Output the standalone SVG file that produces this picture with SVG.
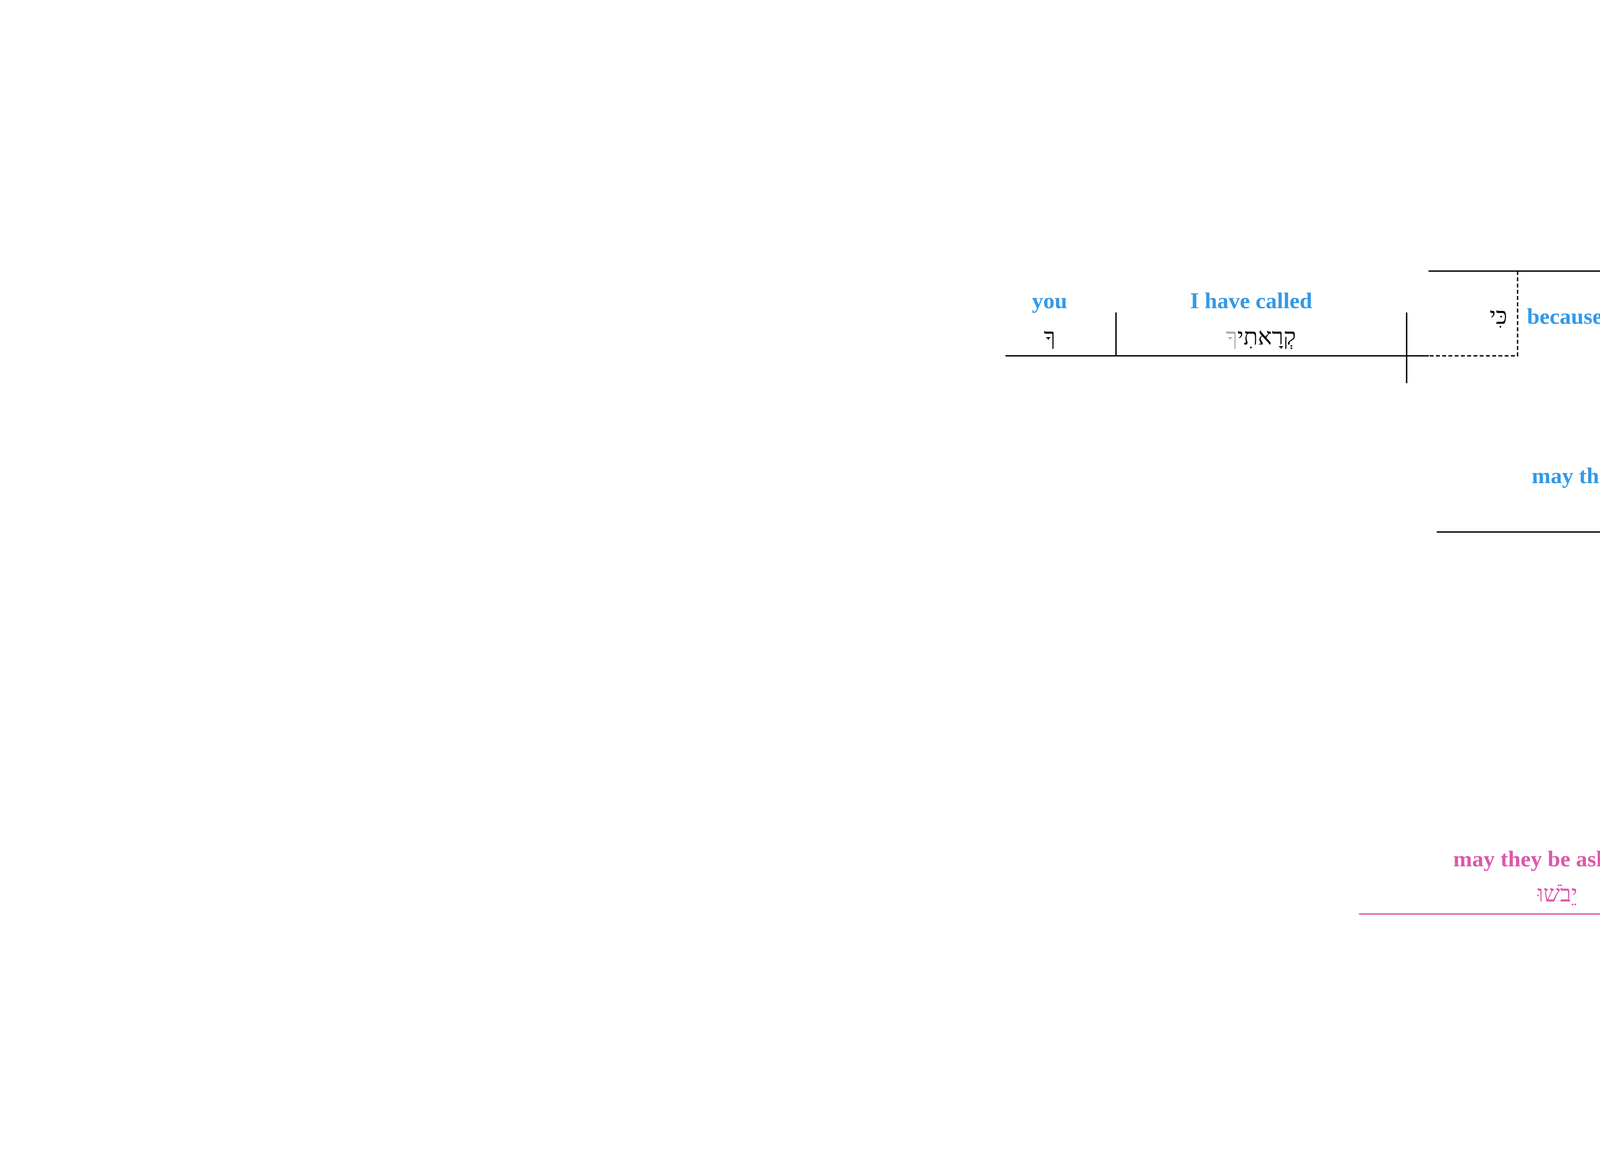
<svg xmlns="http://www.w3.org/2000/svg" width="5409" height="2957" viewBox="0 0 5409 2957">
<style>
.en{font-family:"Liberation Serif","Times New Roman",serif;font-weight:bold;font-size:58px;fill:#3399e8}
.he{font-family:"Liberation Serif","DejaVu Sans",serif;font-size:60px;fill:#000}
.pk{fill:#dc58ac}
.ln{stroke:#000;stroke-width:3.5;fill:none}
.lp{stroke:#dc58ac;stroke-width:3.5;fill:none}
.dash{stroke-dasharray:10 6}
.m{text-anchor:middle}
.s{text-anchor:start}
.e{text-anchor:end}
</style>
<rect width="5409" height="2957" fill="#fff"/>
<text x="5239" y="118" text-anchor="middle" font-family="Liberation Serif, serif" font-size="60" fill="#008000">v. 18</text>

<g id="yhwh">
<text class="en m" x="5241" y="259">YHWH</text>
<text class="he m" x="5241" y="348">יְהוָה</text>
<line class="ln" x1="5067" y1="383" x2="5409" y2="383"/>
</g>

<g id="clause1">
<line class="ln" x1="3657" y1="694" x2="5318" y2="694"/>
<line class="ln" x1="5261" y1="582" x2="5261" y2="762"/>
<text class="en m" x="4747" y="571">let me be ashamed</text>
<text class="he m" x="4748" y="660">אֵבוֹשָׁה</text>
</g>

<g id="not">
<line class="ln" x1="5036" y1="695" x2="4971" y2="807"/>
<text class="he m" x="4950" y="757">אַל</text>
<text class="en s" x="5030" y="759">not</text>
</g>

<g id="because-clause">
<line class="ln" x1="2574" y1="911" x2="3658" y2="911"/>
<line class="ln" x1="3601" y1="800" x2="3601" y2="981"/>
<line class="ln" x1="2857" y1="800" x2="2857" y2="911"/>
<text class="en m" x="2687" y="789">you</text>
<text class="he m" x="2687" y="882">ךָ</text>
<text class="en m" x="3203" y="789">I have called</text>
<text class="he m" x="3228" y="882">קְרָאתִי<tspan fill="#aaaaaa">ךָ</tspan></text>
<text class="he m" x="3836" y="829">כִּי</text>
<text class="en s" x="3909" y="829">because</text>
</g>

<g id="clause2">
<line class="ln" x1="3678" y1="1362" x2="5319" y2="1362"/>
<line class="ln" x1="4754" y1="1249" x2="4754" y2="1430"/>
<text class="en m" x="4188" y="1237">may they be ashamed</text>
<text class="he m" x="4188" y="1325">יֵבֹשׁוּ</text>
<text class="en m" x="5064" y="1237">evil ones</text>
<text class="he m" x="5065" y="1325">רְשָׁעִים</text>
</g>

<g id="clause3">
<line class="ln" x1="4136" y1="1811" x2="5319" y2="1811"/>
<line class="ln" x1="5261" y1="1698" x2="5261" y2="1880"/>
<text class="en m" x="4670" y="1687">may they go silently</text>
<text class="he m" x="4667" y="1776">יִדְּמוּ</text>
</g>

<g id="to-sheol-1">
<polyline class="ln" points="5117,1811 4994,2028 4544,2028"/>
<text class="en m" x="4716" y="1905">Sheol</text>
<text class="he m" x="4716" y="1994">שְׁאוֹל</text>
<text class="he m" x="5017" y="1942">לְ</text>
<text class="en s" x="5080" y="1945">to</text>
</g>

<g id="clause4">
<line class="lp" x1="3479" y1="2340" x2="5318" y2="2340"/>
<line class="lp" x1="4553" y1="2228" x2="4553" y2="2410"/>
<text class="en m pk" x="3987" y="2218">may they be ashamed</text>
<text class="he m pk" x="3987" y="2308">יֵבֹשׁוּ</text>
<text class="en m pk" x="4863" y="2218">evil ones</text>
<text class="he m pk" x="4863" y="2308">רְשָׁעִים</text>
</g>

<g id="clause5">
<line class="lp" x1="4141" y1="2696" x2="5318" y2="2696"/>
<line class="lp" x1="5062" y1="2583" x2="5062" y2="2764"/>
<text class="en m pk" x="4570" y="2570">may they go down</text>
<text class="he m" x="4572" y="2660" style="fill:#80b2ff">יוּרְדוּ</text>
</g>

<g id="to-sheol-2">
<polyline class="lp" points="4918,2696 4793,2913 4343,2913"/>
<text class="en m pk" x="4516" y="2790">Sheol</text>
<text class="he m pk" x="4516" y="2879">שְׁאוֹל</text>
<text class="he m pk" x="4813" y="2827">לְ</text>
<text class="en s pk" x="4880" y="2830">to</text>
</g>

<g id="connectors">
<polyline class="ln dash" points="3885,694 3885,911 3658,911"/>
<line class="lp dash" x1="5318" y1="2340" x2="5318" y2="2696"/>
<text class="en e pk" x="5293" y="2485">and</text>
<text class="he e pk" x="5297" y="2577">וְ</text>
</g>
</svg>
